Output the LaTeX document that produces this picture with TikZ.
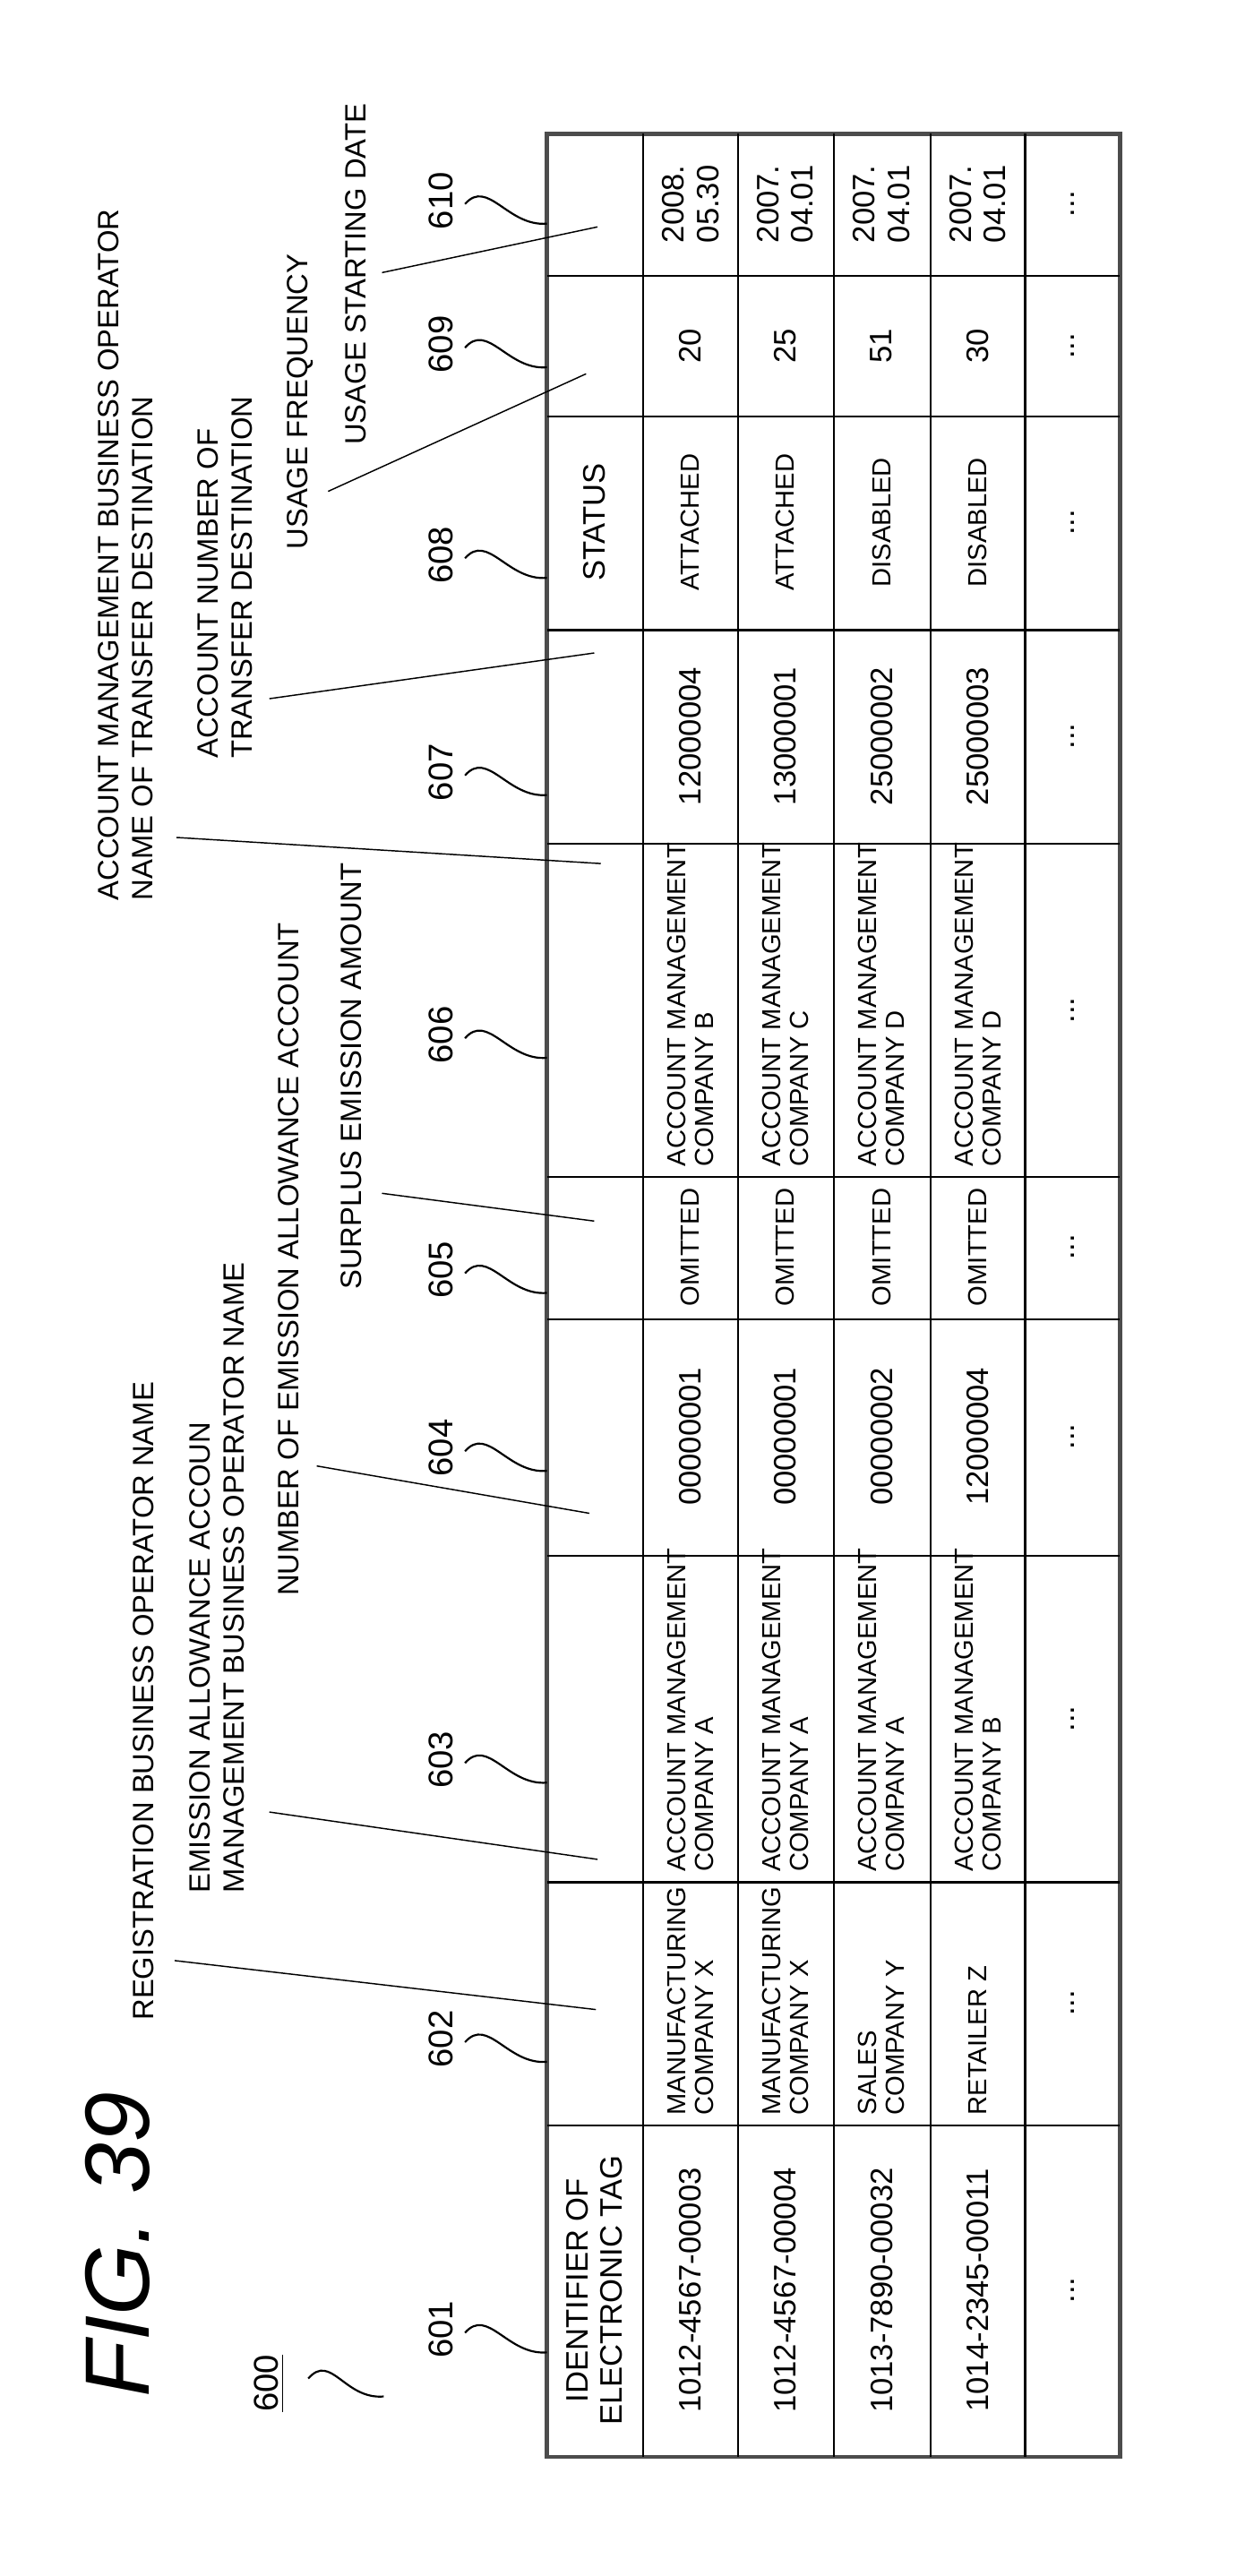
\documentclass[tikz,border=0pt]{standalone}
\usepackage{fontspec}
\setmainfont{Liberation Sans}
\usetikzlibrary{calc}

\begin{document}
\begin{tikzpicture}[x=0.5pt,y=-0.5pt]
\tikzstyle{every node}=[inner sep=0pt,rotate=90]
\tikzstyle{cell}=[font=\fontsize{8}{8.6}\selectfont,align=left]
\tikzstyle{idtxt}=[font=\fontsize{9.5}{10.5}\selectfont,align=center]
\tikzstyle{note}=[font=\fontsize{9}{10.5}\selectfont,align=left,anchor=west]
\tikzstyle{ref}=[font=\fontsize{10.5}{12}\selectfont]
\tikzstyle{squig}=[semithick]
\tikzstyle{lead}=[thin]

\useasboundingbox (0,0) rectangle (768,1578);

% table
\draw[line width=1.3pt,black!70] (335,82) rectangle (686,1505);
\foreach \x in {394,452,511,570,628} \draw[semithick] (\x,82) -- (\x,1505);
\foreach \y in {169,255,386,517,721,808,953,1153,1302} \draw[semithick] (335,\y) -- (686,\y);

% header
\node[idtxt] (h601) at (364,1403) {IDENTIFIER OF\\ELECTRONIC TAG};
\node[idtxt] (h608) at (364,320) {STATUS};

% data
\foreach \r/\a/\b/\c/\d/\e/\f/\g/\h/\k/\m in {
  423/1012-4567-00003/{MANUFACTURING\\COMPANY X}/{ACCOUNT MANAGEMENT\\COMPANY A}/00000001/OMITTED/{ACCOUNT MANAGEMENT\\COMPANY B}/12000004/ATTACHED/20/{2008.\\05.30},
  481/1012-4567-00004/{MANUFACTURING\\COMPANY X}/{ACCOUNT MANAGEMENT\\COMPANY A}/00000001/OMITTED/{ACCOUNT MANAGEMENT\\COMPANY C}/13000001/ATTACHED/25/{2007.\\04.01},
  540/1013-7890-00032/{SALES\\COMPANY Y}/{ACCOUNT MANAGEMENT\\COMPANY A}/00000002/OMITTED/{ACCOUNT MANAGEMENT\\COMPANY D}/25000002/DISABLED/51/{2007.\\04.01},
  599/1014-2345-00011/{RETAILER Z}/{ACCOUNT MANAGEMENT\\COMPANY B}/12000004/OMITTED/{ACCOUNT MANAGEMENT\\COMPANY D}/25000003/DISABLED/30/{2007.\\04.01}}
{
  \node[idtxt] (c601-\r) at (\r,1403) {\a};
  \node[cell,anchor=west] (c602-\r) at (\r,1296) {\b};
  \node[cell,anchor=west] (c603-\r) at (\r,1147) {\c};
  \node[idtxt] (c604-\r) at (\r,880) {\d};
  \node[cell] (c605-\r) at (\r,764) {\e};
  \node[cell,anchor=west] (c606-\r) at (\r,715) {\f};
  \node[idtxt] (c607-\r) at (\r,451) {\g};
  \node[cell] (c608-\r) at (\r,320) {\h};
  \node[idtxt] (c609-\r) at (\r,212) {\k};
  \node[idtxt] (c610-\r) at (\r,125) {\m};
}
\foreach \y in {1403,1227,1053,880,764,619,451,320,212,125}
  \node[idtxt] (dots-\y) at (657,\y) {...};

% column notes
\node[note] (n1) at (77,552) {ACCOUNT MANAGEMENT BUSINESS OPERATOR\\NAME OF TRANSFER DESTINATION};
\node[note] (n2) at (138,465) {ACCOUNT NUMBER OF\\TRANSFER DESTINATION};
\node[note] (n3) at (184,337) {USAGE FREQUENCY};
\node[note] (n4) at (218,273) {USAGE STARTING DATE};
\node[note] (n5) at (88,1238) {REGISTRATION BUSINESS OPERATOR NAME};
\node[note] (n6) at (133,1160) {EMISSION ALLOWANCE ACCOUN\\MANAGEMENT BUSINESS OPERATOR NAME};
\node[note] (n7) at (177,978) {NUMBER OF EMISSION ALLOWANCE ACCOUNT};
\node[note] (n8) at (215,790) {SURPLUS EMISSION AMOUNT};

% leaders
\foreach \n/\sx/\sy/\ex/\ey in {n1/108/513/368/529, n2/165/428/364/400, n3/201/301/359/229,
  n4/234/167/366/139, n5/107/1201/365/1231, n6/165/1110/366/1139,
  n7/194/898/361/927, n8/234/731/364/748}
{
  \coordinate (\n-s) at (\sx,\sy);
  \coordinate (\n-e) at (\ex,\ey);
  \draw[lead] (\n-s) -- (\n-e);
}

% reference numerals
\foreach \n/\y in {601/1427,602/1249,603/1078,604/887,605/778,606/634,607/473,608/340,609/211,610/123}
{
  \node[ref] (r\n) at (270,\y) {\n};
  \coordinate (b\n) at (335,\y+14);
  \draw[squig] ($(r\n.south)+(7,2)$) .. controls +(14,-16) and +(-24,2) .. (b\n);
}

\node[ref] (r600) at (165,1460) {\underline{600}};
\coordinate (b600) at (235,1468);
\draw[squig] ($(r600.south)+(14,-3)$) .. controls +(14,-16) and +(-24,2) .. (b600);

\node[font=\fontsize{28}{30}\selectfont\itshape] (fig) at (72,1375) {FIG. 39};
\end{tikzpicture}
\end{document}
